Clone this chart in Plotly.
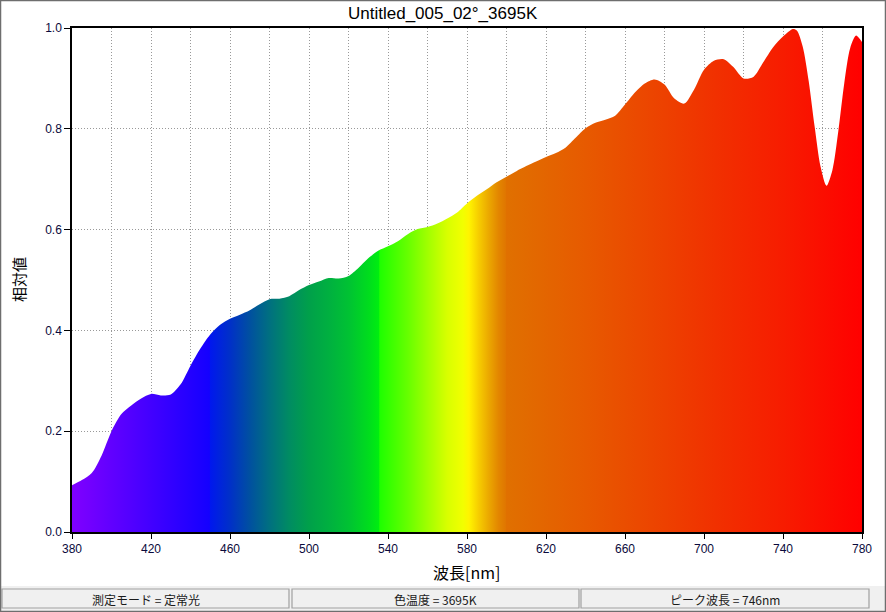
import plotly.graph_objects as go

# ---- data ----
wavelength = [380, 385, 390, 395, 400, 405, 410, 415, 420, 425, 430, 435, 440, 445, 450,
              455, 460, 465, 470, 475, 480, 485, 490, 495, 500, 505, 510, 515, 520, 525,
              530, 535, 540, 545, 550, 555, 560, 565, 570, 575, 580, 585, 590, 595, 600,
              605, 610, 615, 620, 625, 630, 635, 640, 645, 650, 655, 660, 665, 670, 675,
              680, 685, 690, 695, 700, 705, 710, 715, 720, 725, 730, 735, 740, 745, 747,
              750, 753, 756, 759, 762, 765, 768, 771, 774, 777, 780]
relative = [0.093, 0.103, 0.117, 0.152, 0.200, 0.234, 0.251, 0.265, 0.274, 0.271, 0.273, 0.293, 0.330, 0.364, 0.392,
            0.411, 0.423, 0.431, 0.440, 0.452, 0.462, 0.463, 0.468, 0.480, 0.490, 0.497, 0.504, 0.503, 0.508, 0.524,
            0.543, 0.558, 0.567, 0.577, 0.591, 0.601, 0.605, 0.612, 0.622, 0.634, 0.652, 0.667, 0.680, 0.694, 0.705,
            0.716, 0.726, 0.735, 0.744, 0.752, 0.763, 0.782, 0.801, 0.812, 0.818, 0.826, 0.848, 0.872, 0.890, 0.898,
            0.888, 0.860, 0.850, 0.878, 0.917, 0.935, 0.938, 0.922, 0.900, 0.903, 0.932, 0.962, 0.983, 0.998, 0.995,
            0.963, 0.895, 0.805, 0.725, 0.687, 0.718, 0.795, 0.890, 0.960, 0.985, 0.972]

x_ticks = [380, 420, 460, 500, 540, 580, 620, 660, 700, 740, 780]
y_ticks = [0.0, 0.2, 0.4, 0.6, 0.8, 1.0]

title_text = "Untitled_005_02°_3695K"
x_title = "波長[nm]"
y_title = "相対値"
status_texts = ["測定モード = 定常光", "色温度 = 3695K", "ピーク波長 = 746nm"]

# wavelength-colour stops for the gradient fill
color_nm = [380, 449.6, 450, 460, 470, 480, 490, 500, 510, 520, 530, 535.4, 535.8, 550, 560,
            570, 578, 581, 586, 591, 596, 599.6, 600, 640, 700, 740, 780]
color_hex = ["#8000FF", "#1400FF", "#0018EE", "#0030C8", "#0050A0", "#007080", "#008C62", "#00A04A",
             "#00B040", "#00C233", "#00DC1E", "#00EE10", "#1EFF00", "#66FF00", "#A0FF00",
             "#D8FF00", "#F2FF00", "#FFF400", "#F6CC00", "#EBA800", "#E38600", "#E07600", "#E07000",
             "#E75A00", "#F03400", "#F71C00", "#FF0000"]

# ---- geometry helpers (pixels -> paper) ----
W, H = 886, 612
L, R, T, B = 72, 862, 28, 532


def px(x):
    return (x - L) / (R - L)


def py(y):
    return (B - y) / (B - T)


xmin, xmax = x_ticks[0], x_ticks[-1]
colorscale = [[(n - xmin) / (xmax - xmin), c] for n, c in zip(color_nm, color_hex)]

fig = go.Figure()
fig.add_trace(go.Scatter(
    x=wavelength, y=relative, mode="lines",
    line=dict(shape="spline", smoothing=0.8, width=0, color="rgba(0,0,0,0)"),
    fill="tozeroy",
    fillgradient=dict(type="horizontal", colorscale=colorscale, start=xmin, stop=xmax),
    hoverinfo="skip", showlegend=False,
))

tick_font = dict(family="Liberation Sans, Arial, sans-serif", size=12, color="#0a0a3c")
GRID_DASH = "1px,2px"
grid = dict(showgrid=True, gridcolor="#999999", griddash=GRID_DASH, gridwidth=1)

fig.update_layout(
    width=W, height=H,
    margin=dict(l=L, r=W - R, t=T, b=H - B),
    paper_bgcolor="white", plot_bgcolor="white",
    showlegend=False,
    xaxis=dict(range=[xmin, xmax], tickvals=x_ticks, ticks="outside", ticklen=5,
               tickcolor="black", showline=True, linecolor="black", linewidth=1.5,
               mirror=True, zeroline=False, tickfont=tick_font,
               minor=dict(dtick=20, tick0=380, showgrid=True, gridcolor="#999999",
                          griddash=GRID_DASH, gridwidth=1, ticks=""),
               **grid),
    yaxis=dict(range=[0, 1], tickvals=y_ticks, tickformat=".1f", ticks="outside", ticklen=6,
               tickcolor="black", showline=True, linecolor="black", linewidth=1.5,
               mirror=True, zeroline=False, tickfont=tick_font, **grid),
)

shapes = []
annotations = []

# status bar background
shapes.append(dict(type="rect", xref="paper", yref="paper", layer="below",
                   x0=px(0), x1=px(W), y0=py(H), y1=py(586),
                   fillcolor="#F0F0F0", line=dict(width=0)))
boxes = [(2, 289), (292, 579), (581, 869)]
for (a, b), txt in zip(boxes, status_texts):
    shapes.append(dict(type="rect", xref="paper", yref="paper",
                       x0=px(a), x1=px(b), y0=py(608), y1=py(589),
                       fillcolor="#F0F0F0", line=dict(color="#A0A0A0", width=1.2)))
    annotations.append(dict(text=txt, xref="paper", yref="paper", x=px((a + b) / 2), y=py(599),
                            xanchor="center", yanchor="middle", showarrow=False,
                            font=dict(family="Noto Sans CJK JP, sans-serif", size=12, color="#1a1a1a")))
# window border
shapes.append(dict(type="rect", xref="paper", yref="paper",
                   x0=px(0.5), x1=px(W - 0.5), y0=py(H - 0.5), y1=py(0.5),
                   line=dict(color="#6E6E6E", width=1.5)))

annotations.append(dict(text=title_text, xref="paper", yref="paper", x=px(443), y=py(13),
                        xanchor="center", yanchor="middle", showarrow=False,
                        font=dict(family="Liberation Sans, Arial, sans-serif", size=17, color="black")))
annotations.append(dict(text=x_title, xref="paper", yref="paper", x=px(466), y=py(572),
                        xanchor="center", yanchor="middle", showarrow=False,
                        font=dict(family="Noto Sans CJK JP, sans-serif", size=16, color="black")))
annotations.append(dict(text=y_title, xref="paper", yref="paper", x=px(18), y=py(280),
                        xanchor="center", yanchor="middle", showarrow=False, textangle=-90,
                        font=dict(family="Noto Sans CJK JP, sans-serif", size=15, color="black")))

fig.update_layout(shapes=shapes, annotations=annotations)
fig.write_html("out.html", config={"displayModeBar": False},
               post_script="document.body.style.margin='0';document.body.style.overflow='hidden';")
